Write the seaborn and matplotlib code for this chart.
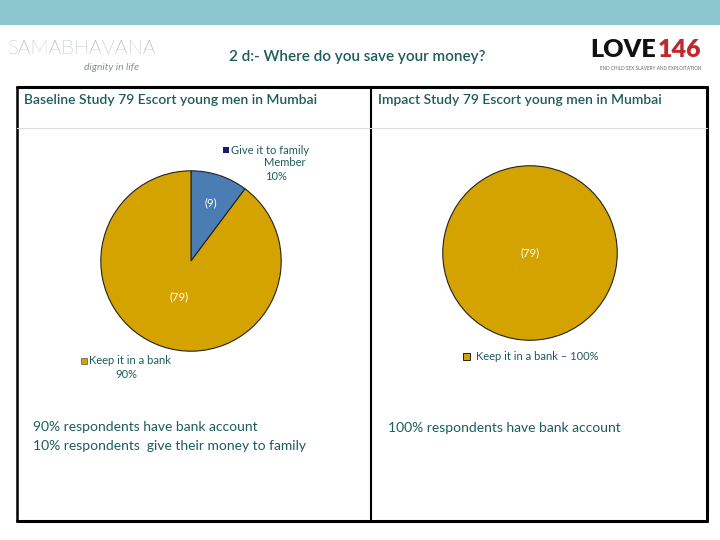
import numpy as np
import seaborn as sns
import matplotlib.pyplot as plt
from matplotlib.patches import Rectangle

# data
categories = ["Give it to family Member", "Keep it in a bank"]
baseline_counts = [9, 79]
impact_counts = [79]
baseline_pct = ["10%", "90%"]
impact_label = "Keep it in a bank \u2013 100%"

title = "2 d:- Where do you save your money?"
left_header = "Baseline Study 79 Escort young men in Mumbai"
right_header = "Impact Study 79 Escort young men in Mumbai"
left_notes = ["90% respondents have bank account",
              "10% respondents  give their money to family"]
right_notes = ["100% respondents have bank account"]

sns.set_theme(style="white")
plt.rcParams['font.family'] = ['Lato', 'DejaVu Sans']

teal = "#1d5c5c"
blue = "#4a7db4"
gold = "#d4a300"

W, H = 720, 540
fig = plt.figure(figsize=(7.2, 5.4), dpi=100)

# background axes in pixel coordinates
bg = fig.add_axes([0, 0, 1, 1])
bg.set_xlim(0, W)
bg.set_ylim(H, 0)
bg.axis("off")

bg.add_patch(Rectangle((0, 0), W, 25, color="#8cc6ce", lw=0))

# logos (approximated with text)
bg.text(82, 49, "SAMABHAVANA", fontsize=14.5, color="#6f8087", fontweight="light",
        va="center", ha="center")
bg.text(112, 67, "dignity in life", fontsize=7.5, color="#8a9498", style="italic",
        va="center", ha="center")
bg.text(656, 50, "LOVE", fontsize=18, color="#111111", fontweight="heavy",
        va="center", ha="right")
bg.text(658, 50, "146", fontsize=18, color="#c0282d", fontweight="heavy",
        va="center", ha="left")
bg.text(651, 69, "END CHILD SEX SLAVERY AND EXPLOITATION", fontsize=3.4,
        color="#666666", va="center", ha="center")

bg.text(357, 57, title, fontsize=11, color=teal, ha="center", va="center",
        fontweight="semibold")

# table frame
bg.plot([17, 707], [87, 87], color="black", lw=2.2)
bg.plot([17, 707], [521, 521], color="black", lw=2.2)
bg.plot([17, 17], [87, 521], color="black", lw=1.8)
bg.plot([707, 707], [87, 521], color="black", lw=2.2)
bg.plot([371, 371], [87, 521], color="black", lw=1.5)
bg.plot([17, 707], [128, 128], color="#dddddd", lw=0.8)

bg.text(24, 100, left_header, fontsize=10, color=teal, ha="left", va="center",
        fontweight="semibold")
bg.text(378, 100, right_header, fontsize=10, color=teal, ha="left", va="center",
        fontweight="semibold")


def pie_axes(cx, cy, r):
    return fig.add_axes([(cx - r) / W, (H - cy - r) / H, 2 * r / W, 2 * r / H])


def draw_pie(ax, counts, colors, dists):
    wedges, _ = ax.pie(counts, colors=colors, startangle=90, counterclock=False,
                       wedgeprops=dict(edgecolor="#222222", linewidth=0.8))
    for w, n, d in zip(wedges, counts, dists):
        theta = np.deg2rad((w.theta1 + w.theta2) / 2)
        ax.text(d * np.cos(theta), d * np.sin(theta), f"({n})", color="white",
                fontsize=8, ha="center", va="center")
    ax.set_xlim(-1.02, 1.02)
    ax.set_ylim(-1.02, 1.02)
    ax.axis("off")


ax1 = pie_axes(191, 261, 92)
draw_pie(ax1, baseline_counts, [blue, gold], [0.68, 0.42])

ax2 = pie_axes(530, 253, 89)
draw_pie(ax2, impact_counts, [gold], [0.0])

# category labels
bg.add_patch(Rectangle((223, 147), 6, 6, color="#1a1a7a", lw=0))
bg.text(231, 150, "Give it to family", fontsize=8, color=teal, ha="left", va="center")
bg.text(285, 162, "Member", fontsize=8, color=teal, ha="center", va="center")
bg.text(276, 177, baseline_pct[0], fontsize=8, color=teal, ha="center", va="center")

bg.add_patch(Rectangle((81, 358), 6, 6, color=gold, ec="#555555", lw=0.5))
bg.text(89, 361, "Keep it in a bank", fontsize=8, color=teal, ha="left", va="center")
bg.text(126, 374, baseline_pct[1], fontsize=8, color=teal, ha="center", va="center")

bg.add_patch(Rectangle((463, 353), 7, 7, color=gold, ec="#222222", lw=0.7))
bg.text(476, 357, impact_label, fontsize=8, color=teal, ha="left", va="center")

for i, line in enumerate(left_notes):
    bg.text(33, 427 + i * 19, line, fontsize=10, color=teal, ha="left", va="center")
for i, line in enumerate(right_notes):
    bg.text(388, 428 + i * 19, line, fontsize=10, color=teal, ha="left", va="center")

fig.savefig("out.png", dpi=100)
